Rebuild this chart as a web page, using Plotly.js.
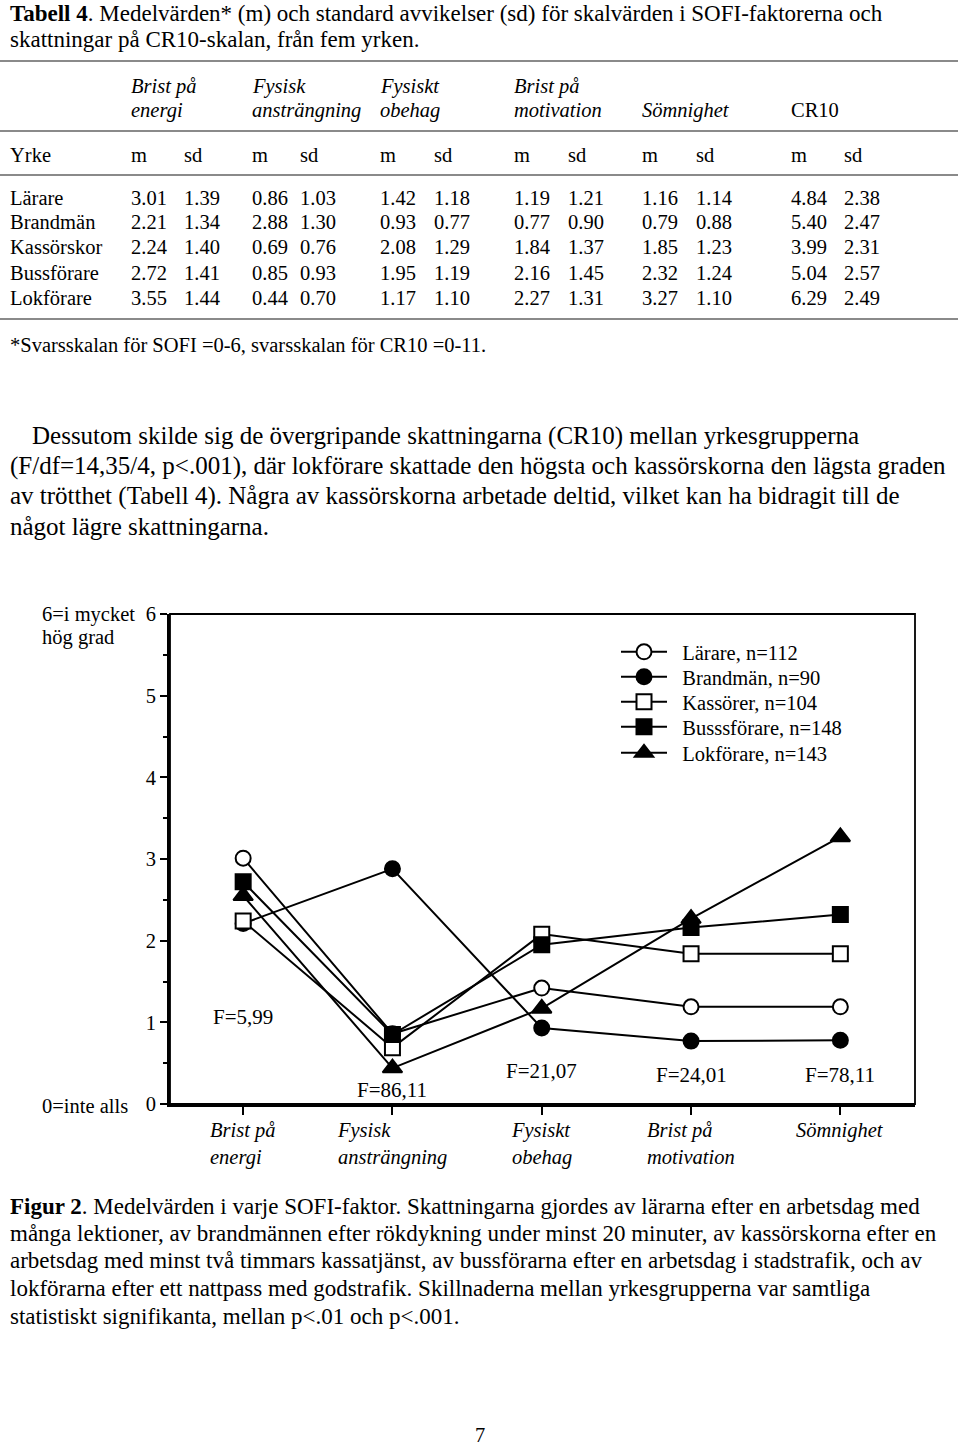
<!DOCTYPE html>
<html>
<head>
<meta charset="utf-8">
<script src="https://cdn.plot.ly/plotly-3.0.1.min.js"></script>
<style>
html,body{margin:0;padding:0;background:#fff;}
#chart{width:960px;height:1446px;}
</style>
</head>
<body>
<div id="chart"></div>
<script>
// ---------- Table data (Tabell 4) ----------
const occupations = ["Lärare", "Brandmän", "Kassörskor", "Bussförare", "Lokförare"];
const headerLine1 = ["Brist på", "Fysisk", "Fysiskt", "Brist på", "", ""];
const headerLine2 = ["energi", "ansträngning", "obehag", "motivation", "Sömnighet", "CR10"];
const energiM = [3.01, 2.21, 2.24, 2.72, 3.55];
const energiSd = [1.39, 1.34, 1.40, 1.41, 1.44];
const anstrM = [0.86, 2.88, 0.69, 0.85, 0.44];
const anstrSd = [1.03, 1.30, 0.76, 0.93, 0.70];
const obehagM = [1.42, 0.93, 2.08, 1.95, 1.17];
const obehagSd = [1.18, 0.77, 1.29, 1.19, 1.10];
const motivM = [1.19, 0.77, 1.84, 2.16, 2.27];
const motivSd = [1.21, 0.90, 1.37, 1.45, 1.31];
const somnM = [1.16, 0.79, 1.85, 2.32, 3.27];
const somnSd = [1.14, 0.88, 1.23, 1.24, 1.10];
const cr10M = [4.84, 5.40, 3.99, 5.04, 6.29];
const cr10Sd = [2.38, 2.47, 2.31, 2.57, 2.49];

// ---------- Chart data (Figur 2) ----------
const categories = ["Brist på<br>energi", "Fysisk<br>ansträngning", "Fysiskt<br>obehag", "Brist på<br>motivation", "Sömnighet"];
const seriesNames = ["Lärare, n=112", "Brandmän, n=90", "Kassörer, n=104", "Busssförare, n=148", "Lokförare, n=143"];
const lararValues = [3.01, 0.86, 1.42, 1.19, 1.19];
const brandmanValues = [2.21, 2.88, 0.93, 0.77, 0.78];
const kassorValues = [2.24, 0.69, 2.08, 1.84, 1.84];
const bussValues = [2.72, 0.85, 1.95, 2.16, 2.32];
const lokValues = [2.55, 0.44, 1.17, 2.27, 3.27];
const fLabels = ["F=5,99", "F=86,11", "F=21,07", "F=24,01", "F=78,11"];
const fLabelY = [1.06, 0.17, 0.41, 0.35, 0.35];
const yTicks = [0, 1, 2, 3, 4, 5, 6];

// ---------- page geometry helpers ----------
const W = 960, H = 1446;
const PL = 170, PR = 915, PT = 614, PB = 1104;
const px = x => (x - PL) / (PR - PL);
const py = y => (PB - y) / (PB - PT);
const FONT = "Liberation Serif, Times New Roman, serif";

const ann = [];
function txt(x, y, s, size, opts) {
  ann.push(Object.assign({
    xref: "paper", yref: "paper", x: px(x), y: py(y), text: s,
    showarrow: false, xanchor: "left", yanchor: "middle", align: "left",
    font: {family: FONT, size: size, color: "#000"}
  }, opts || {}));
}

// Title
txt(8, 13, "<b>Tabell 4</b>. Medelvärden* (m) och standard avvikelser (sd) för skalvärden i SOFI-faktorerna och", 23);
txt(8, 39, "skattningar på CR10-skalan, från fem yrken.", 23);

// Table header
const TS = 20.5;
const mX = [129, 250, 378, 512, 640, 789];
const sdX = [182, 298, 432, 566, 694, 842];
headerLine1.forEach((h, i) => { if (h) txt(mX[i], 86, "<i>" + h + "</i>", TS); });
headerLine2.forEach((h, i) => { txt(mX[i], 110, i === 5 ? h : "<i>" + h + "</i>", TS); });
txt(8, 155, "Yrke", TS);
mX.forEach((x, i) => { txt(x, 155, "m", TS); txt(sdX[i], 155, "sd", TS); });

const tableCols = [[energiM, energiSd], [anstrM, anstrSd], [obehagM, obehagSd], [motivM, motivSd], [somnM, somnSd], [cr10M, cr10Sd]];
const rowY = [198, 222, 247, 273, 298];
occupations.forEach((o, r) => {
  txt(8, rowY[r], o, TS);
  tableCols.forEach((c, i) => {
    txt(mX[i], rowY[r], c[0][r].toFixed(2), TS);
    txt(sdX[i], rowY[r], c[1][r].toFixed(2), TS);
  });
});
txt(8, 345, "*Svarsskalan för SOFI =0-6, svarsskalan för CR10 =0-11.", TS);

// Paragraph
const PS = 25;
txt(30, 436, "Dessutom skilde sig de övergripande skattningarna (CR10) mellan yrkesgrupperna", PS);
txt(8, 466, "(F/df=14,35/4, p&lt;.001), där lokförare skattade den högsta och kassörskorna den lägsta graden", PS);
txt(8, 496, "av trötthet (Tabell 4). Några av kassörskorna arbetade deltid, vilket kan ha bidragit till de", PS);
txt(8, 526, "något lägre skattningarna.", PS);

// Axis end labels
txt(40, 614, "6=i mycket", TS);
txt(40, 637, "hög grad", TS);
txt(130, 1106, "0=inte alls", TS, {xanchor: "right"});

// Caption
const CS = 23;
txt(8, 1206, "<b>Figur 2</b>. Medelvärden i varje SOFI-faktor. Skattningarna gjordes av lärarna efter en arbetsdag med", CS);
txt(8, 1233, "många lektioner, av brandmännen efter rökdykning under minst 20 minuter, av kassörskorna efter en", CS);
txt(8, 1260, "arbetsdag med minst två timmars kassatjänst, av bussförarna efter en arbetsdag i stadstrafik, och av", CS);
txt(8, 1288, "lokförarna efter ett nattpass med godstrafik. Skillnaderna mellan yrkesgrupperna var samtliga", CS);
txt(8, 1316, "statistiskt signifikanta, mellan p&lt;.01 och p&lt;.001.", CS);

// Page number
txt(480, 1435, "7", TS, {xanchor: "center"});

// Category labels (left-aligned lines, centred block)
categories.forEach((c, i) => {
  ann.push({xref: "x", yref: "paper", x: c, y: py(1117), yanchor: "top", xanchor: "center",
    align: "left", showarrow: false, text: "<i>" + c + "</i>",
    font: {family: FONT, size: TS, color: "#000"}});
});
// F labels
fLabels.forEach((f, i) => {
  ann.push({xref: "x", yref: "y", x: categories[i], y: fLabelY[i], showarrow: false,
    xanchor: "center", yanchor: "middle", text: f, font: {family: FONT, size: 21, color: "#000"}});
});

// Rules of the table
const shapes = [61, 131, 175, 319].map(y => ({
  type: "line", xref: "paper", yref: "paper", x0: px(0), x1: px(958), y0: py(y), y1: py(y),
  line: {color: "#8a8a8a", width: 2}
}));
// Plot frame (thin top/right)
shapes.push({type: "rect", xref: "paper", yref: "paper", x0: 0, x1: 1, y0: 0, y1: 1,
  line: {color: "#000", width: 1.8}, layer: "below"});

const seriesValues = [lararValues, brandmanValues, kassorValues, bussValues, lokValues];
const symbols = ["circle", "circle", "square", "square", "triangle-up"];
const fills = ["#fff", "#000", "#fff", "#000", "#000"];
const sizes = [15, 15, 15, 15, 17];
const legendIds = ["legend", "legend2", "legend3", "legend4", "legend5"];
const legendRowY = [652, 677, 702, 727, 753];
const traces = seriesValues.map((v, i) => ({
  type: "scatter", mode: "lines+markers", name: "\u00a0\u00a0" + seriesNames[i],
  legend: legendIds[i],
  x: categories, y: v,
  line: {color: "#000", width: 2},
  marker: {symbol: symbols[i], size: sizes[i], color: fills[i], line: {color: "#000", width: 2}}
}));

const layout = {
  width: W, height: H, autosize: false,
  margin: {l: PL, r: W - PR, t: PT, b: H - PB, pad: 0},
  paper_bgcolor: "#fff", plot_bgcolor: "#fff",
  showlegend: true,
  xaxis: {type: "category", categoryarray: categories, range: [-0.49, 4.5],
    showline: true, linecolor: "#000", linewidth: 3, showgrid: false, zeroline: false,
    ticks: "outside", ticklen: 8, tickwidth: 2, tickcolor: "#000", showticklabels: false, fixedrange: true},
  yaxis: {range: [0, 6], tickvals: yTicks, ticktext: yTicks.map(String),
    showline: true, linecolor: "#000", linewidth: 3, showgrid: false, zeroline: false,
    ticks: "outside", ticklen: 7, tickwidth: 2, tickcolor: "#000",
    minor: {dtick: 0.5, ticks: "outside", ticklen: 4, tickwidth: 2, tickcolor: "#000", showgrid: false},
    tickfont: {family: FONT, size: 20.5, color: "#000"}, fixedrange: true},
  annotations: ann,
  shapes: shapes
};
legendIds.forEach((id, i) => {
  layout[id] = {x: px(616), y: py(legendRowY[i]), xanchor: "left", yanchor: "middle",
    bgcolor: "rgba(0,0,0,0)", font: {family: FONT, size: TS, color: "#000"},
    itemwidth: 46, itemclick: false, itemdoubleclick: false};
});

Plotly.newPlot("chart", traces, layout, {displayModeBar: false, staticPlot: true});
</script>
</body>
</html>
